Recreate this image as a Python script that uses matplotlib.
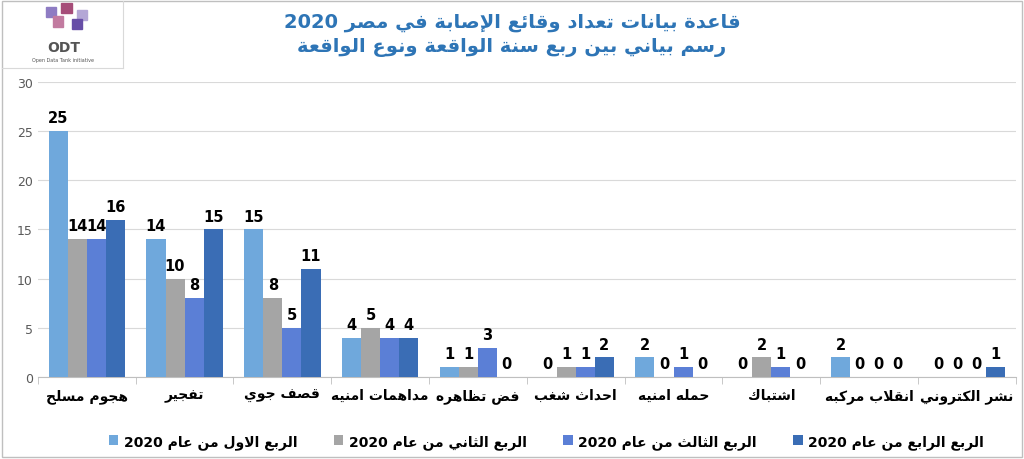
import matplotlib
matplotlib.use("Agg")
import matplotlib.pyplot as plt
import numpy as np

categories = ["هجوم مسلح", "تفجير", "قصف جوي", "مداهمات امنيه", "فض تظاهره",
              "احداث شغب", "حمله امنيه", "اشتباك", "انقلاب مركبه", "نشر الكتروني"]
q1 = [25, 14, 15, 4, 1, 0, 2, 0, 2, 0]
q2 = [14, 10, 8, 5, 1, 1, 0, 2, 0, 0]
q3 = [14, 8, 5, 4, 3, 1, 1, 1, 0, 0]
q4 = [16, 15, 11, 4, 0, 2, 0, 0, 0, 1]
series_names = ["الربع الاول من عام 2020", "الربع الثاني من عام 2020",
                "الربع الثالث من عام 2020", "الربع الرابع من عام 2020"]
title1 = "قاعدة بيانات تعداد وقائع الإصابة في مصر 2020"
title2 = "رسم بياني بين ربع سنة الواقعة ونوع الواقعة"
colors = ["#6FA8DC", "#A5A5A5", "#5B7FD6", "#3A6DB5"]

# --- minimal Arabic shaping ---
F = {
 'ء': (0xFE80, None, None, None), 'آ': (0xFE81, 0xFE82, None, None),
 'أ': (0xFE83, 0xFE84, None, None), 'إ': (0xFE87, 0xFE88, None, None),
 'ا': (0xFE8D, 0xFE8E, None, None), 'ئ': (0xFE89, 0xFE8A, 0xFE8B, 0xFE8C),
 'ب': (0xFE8F, 0xFE90, 0xFE91, 0xFE92), 'ة': (0xFE93, 0xFE94, None, None),
 'ت': (0xFE95, 0xFE96, 0xFE97, 0xFE98), 'ث': (0xFE99, 0xFE9A, 0xFE9B, 0xFE9C),
 'ج': (0xFE9D, 0xFE9E, 0xFE9F, 0xFEA0), 'ح': (0xFEA1, 0xFEA2, 0xFEA3, 0xFEA4),
 'خ': (0xFEA5, 0xFEA6, 0xFEA7, 0xFEA8), 'د': (0xFEA9, 0xFEAA, None, None),
 'ذ': (0xFEAB, 0xFEAC, None, None), 'ر': (0xFEAD, 0xFEAE, None, None),
 'ز': (0xFEAF, 0xFEB0, None, None), 'س': (0xFEB1, 0xFEB2, 0xFEB3, 0xFEB4),
 'ش': (0xFEB5, 0xFEB6, 0xFEB7, 0xFEB8), 'ص': (0xFEB9, 0xFEBA, 0xFEBB, 0xFEBC),
 'ض': (0xFEBD, 0xFEBE, 0xFEBF, 0xFEC0), 'ط': (0xFEC1, 0xFEC2, 0xFEC3, 0xFEC4),
 'ظ': (0xFEC5, 0xFEC6, 0xFEC7, 0xFEC8), 'ع': (0xFEC9, 0xFECA, 0xFECB, 0xFECC),
 'غ': (0xFECD, 0xFECE, 0xFECF, 0xFED0), 'ف': (0xFED1, 0xFED2, 0xFED3, 0xFED4),
 'ق': (0xFED5, 0xFED6, 0xFED7, 0xFED8), 'ك': (0xFED9, 0xFEDA, 0xFEDB, 0xFEDC),
 'ل': (0xFEDD, 0xFEDE, 0xFEDF, 0xFEE0), 'م': (0xFEE1, 0xFEE2, 0xFEE3, 0xFEE4),
 'ن': (0xFEE5, 0xFEE6, 0xFEE7, 0xFEE8), 'ه': (0xFEE9, 0xFEEA, 0xFEEB, 0xFEEC),
 'و': (0xFEED, 0xFEEE, None, None), 'ى': (0xFEEF, 0xFEF0, None, None),
 'ي': (0xFEF1, 0xFEF2, 0xFEF3, 0xFEF4),
}
LA = {'ا': (0xFEFB, 0xFEFC), 'إ': (0xFEF9, 0xFEFA), 'أ': (0xFEF7, 0xFEF8), 'آ': (0xFEF5, 0xFEF6)}

def dual(c):
    return c in F and F[c][2] is not None

def shape_word(w):
    chars = []
    i = 0
    while i < len(w):
        if w[i] == 'ل' and i + 1 < len(w) and w[i + 1] in LA:
            chars.append(('LA', w[i + 1])); i += 2
        else:
            chars.append((w[i], None)); i += 1
    out = []
    for k, (c, a) in enumerate(chars):
        prev = chars[k - 1][0] if k > 0 else None
        jp = prev is not None and prev != 'LA' and dual(prev)
        if c == 'LA':
            out.append(chr(LA[a][1] if jp else LA[a][0])); continue
        if c not in F:
            out.append(c); continue
        nxt = chars[k + 1][0] if k + 1 < len(chars) else None
        jn = dual(c) and nxt is not None and (nxt in F or nxt == 'LA')
        iso, fin, ini, med = F[c]
        if jp and jn: g = med
        elif jp: g = fin
        elif jn: g = ini
        else: g = iso
        out.append(chr(g))
    return ''.join(out)[::-1]

def ar(s):
    toks = s.split(' ')
    res = [t if t.isdigit() else shape_word(t) for t in toks]
    return ' '.join(res[::-1])

plt.rcParams['font.family'] = ['DejaVu Sans']
fig = plt.figure(figsize=(10.24, 4.6), dpi=100)
fig.patch.set_facecolor('white')
ax = fig.add_axes([0.037, 0.178, 0.955, 0.642])

x = np.arange(len(categories))
w = 0.195
for j, vals in enumerate([q1, q2, q3, q4]):
    xs = x + (j - 1.5) * w
    ax.bar(xs, vals, w, color=colors[j], label=ar(series_names[j]), zorder=3)
    for xi, v in zip(xs, vals):
        ax.text(xi, v + 0.6, str(v), ha='center', va='bottom', fontsize=10.5, fontweight='bold')

ax.set_xlim(-0.5, len(categories) - 0.5)
ax.set_ylim(0, 30)
ax.set_yticks(range(0, 31, 5))
ax.tick_params(axis='y', labelsize=9, colors='#595959', length=0)
ax.tick_params(axis='x', length=0, pad=8)
ax.set_xticks(x)
ax.set_xticklabels([ar(c) for c in categories], fontsize=10, fontweight='bold')
ax.set_xticks(np.arange(-0.5, len(categories), 1), minor=True)
ax.tick_params(axis='x', which='minor', length=5, color='#BFBFBF')
ax.grid(axis='y', color='#D9D9D9', lw=0.8, zorder=0)
for s in ['top', 'right', 'left']:
    ax.spines[s].set_visible(False)
ax.spines['bottom'].set_color('#BFBFBF')

fig.text(0.5, 0.952, ar(title1), ha='center', va='center', fontsize=14, fontweight='bold', color='#2E75B6')
fig.text(0.5, 0.897, ar(title2), ha='center', va='center', fontsize=14, fontweight='bold', color='#2E75B6')

# logo
fig.text(0.062, 0.895, "ODT", ha='center', va='center', fontsize=10, fontweight='bold', color='#555555')
fig.text(0.062, 0.868, "Open Data Tank initiative", ha='center', va='center', fontsize=3.5, color='#555555')
for (lx, ly, c) in [(0.045, 0.96, '#8E7CC3'), (0.06, 0.97, '#A64D79'), (0.075, 0.955, '#B4A7D6'),
                    (0.052, 0.94, '#C27BA0'), (0.07, 0.935, '#674EA7')]:
    fig.patches.append(plt.Rectangle((lx, ly), 0.01, 0.022, transform=fig.transFigure, color=c))
fig.add_artist(plt.Line2D([0.12, 0.12], [0.85, 0.996], color='#D9D9D9', lw=0.8))
fig.add_artist(plt.Line2D([0.002, 0.12], [0.85, 0.85], color='#D9D9D9', lw=0.8))

ax.legend(loc='upper center', bbox_to_anchor=(0.52, -0.15), ncol=4, frameon=False,
          prop={'size': 10, 'weight': 'bold'}, handlelength=0.7, handleheight=0.7,
          columnspacing=2.6, handletextpad=0.4)

fig.patches.append(plt.Rectangle((0.002, 0.004), 0.996, 0.992, transform=fig.transFigure,
                                 fill=False, edgecolor='#BFBFBF', lw=1))
fig.savefig('out.png', dpi=100)
